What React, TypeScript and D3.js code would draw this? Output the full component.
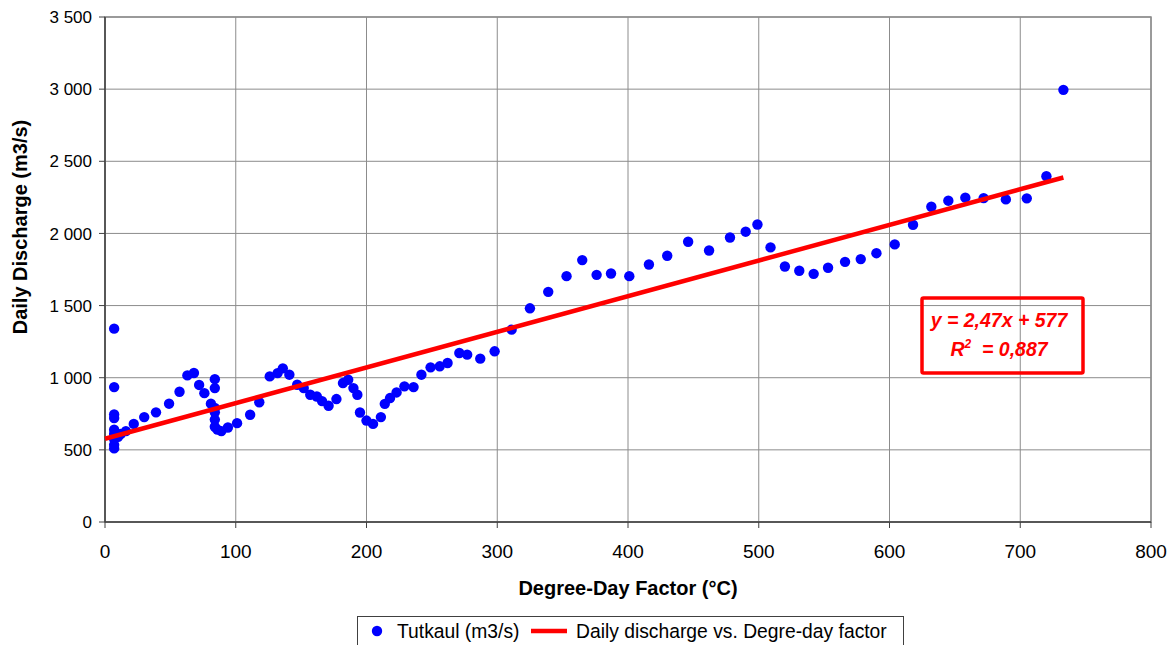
import React from 'react';
import * as d3 from 'd3';

// Tutkaul daily discharge vs degree-day factor
const degreeDays = [
  7, 7, 7, 7, 7, 7, 7, 7, 7, 10, 12,
  16, 22, 30, 39, 49, 57, 63, 68, 72, 76, 81, 84, 84, 84, 84, 84, 84, 86, 89, 94, 101,
  111, 118, 126, 132, 136, 141, 147, 152, 157, 162, 166, 171, 177, 182, 186, 190, 193,
  195, 200, 205, 211, 214, 218, 223, 229, 236, 242, 249, 256, 262, 271, 277, 287, 298,
  311, 325, 339, 353, 365, 376, 387, 401, 416, 430, 446, 462, 478, 490, 499, 509, 520,
  531, 542, 553, 566, 578, 590, 604, 618, 632, 645, 658, 672, 689, 705, 720, 733,
];
const discharge = [
  1340, 935, 745, 720, 640, 610, 575, 535, 510, 590, 610,
  630, 680, 727, 760, 820, 903, 1016, 1033, 950, 893, 820, 990, 928, 790, 760, 710, 660, 640, 630, 655, 685,
  743, 830, 1009, 1032, 1065, 1021, 951, 928, 882, 870, 838, 806, 852, 963, 986, 928, 882,
  759, 703, 680, 727, 819, 859, 898, 940, 935, 1021, 1072, 1079, 1102, 1171, 1160, 1132, 1183,
  1333, 1481, 1595, 1704, 1815, 1713, 1722, 1704, 1785, 1845, 1942, 1882, 1972, 2012, 2062, 1903, 1771,
  1741, 1720, 1762, 1803, 1822, 1863, 1924, 2060, 2185, 2227, 2248, 2245, 2236, 2243, 2396, 2995,
];

// Excel linear trendline shown on the chart
const trendSlope = 2.47;
const trendIntercept = 577;
const trendRange = [0, 733];

const xTicks = [0, 100, 200, 300, 400, 500, 600, 700, 800];
const yTicks = [0, 500, 1000, 1500, 2000, 2500, 3000, 3500];

const W = 1175;
const H = 645;
const margin = { top: 17, right: 24, bottom: 123, left: 105 };
const FONT = 'Arial, "Liberation Sans", Helvetica, sans-serif';

const fmt = (v: number) => d3.format(',')(v).replace(/,/g, '\u00a0');

export default function App() {
  const innerW = W - margin.left - margin.right;
  const innerH = H - margin.top - margin.bottom;

  const x = d3.scaleLinear().domain([0, 800]).range([0, innerW]);
  const y = d3.scaleLinear().domain([0, 3500]).range([innerH, 0]);

  const points = degreeDays.map((d, i) => ({ x: d, y: discharge[i] }));
  const trend = trendRange.map(v => ({ x: v, y: trendSlope * v + trendIntercept }));
  const line = d3.line<{ x: number; y: number }>().x(d => x(d.x)).y(d => y(d.y));

  return (
    <div style={{ position: 'fixed', left: 0, top: 0 }}>
      <svg width={W} height={H} style={{ display: 'block', background: '#fff' }} fontFamily={FONT}>
        <g transform={`translate(${margin.left},${margin.top})`}>
          {/* grid */}
          {yTicks.map(t => (
            <line key={'gy' + t} x1={0} x2={innerW} y1={y(t)} y2={y(t)} stroke="#8c8c8c" strokeWidth={1} />
          ))}
          {xTicks.map(t => (
            <line key={'gx' + t} x1={x(t)} x2={x(t)} y1={0} y2={innerH} stroke="#8c8c8c" strokeWidth={1} />
          ))}
          <rect x={0} y={0} width={innerW} height={innerH} fill="none" stroke="#8c8c8c" strokeWidth={1.5} />

          {/* axes */}
          <line x1={0} x2={0} y1={0} y2={innerH} stroke="#404040" strokeWidth={1.5} />
          <line x1={0} x2={innerW} y1={innerH} y2={innerH} stroke="#404040" strokeWidth={1.5} />
          {yTicks.map(t => (
            <g key={'ty' + t}>
              <line x1={-6} x2={0} y1={y(t)} y2={y(t)} stroke="#404040" strokeWidth={1} />
              <text x={-13} y={y(t)} dy="0.36em" textAnchor="end" fontSize={17} fill="#000">
                {fmt(t)}
              </text>
            </g>
          ))}
          {xTicks.map(t => (
            <g key={'tx' + t}>
              <line x1={x(t)} x2={x(t)} y1={innerH} y2={innerH + 6} stroke="#404040" strokeWidth={1} />
              <text x={x(t)} y={innerH + 36} textAnchor="middle" fontSize={19} fill="#000">
                {t}
              </text>
            </g>
          ))}

          {/* data */}
          {points.map((p, i) => (
            <circle key={i} cx={x(p.x)} cy={y(p.y)} r={5.2} fill="#0000ff" />
          ))}
          <path d={line(trend) || ''} fill="none" stroke="#ff0000" strokeWidth={4.5} />

          {/* equation label */}
          <rect x={817} y={281} width={161} height={75} fill="none" stroke="#ff0000" strokeWidth={3.5} rx={1.5} />
          <text x={894} y={310} textAnchor="middle" fontSize={19.5} fontWeight="bold" fontStyle="italic" fill="#ff0000">
            y = 2,47x + 577
          </text>
          <text x={894} y={339} textAnchor="middle" fontSize={19.5} fontWeight="bold" fontStyle="italic" fill="#ff0000">
            R<tspan dy={-8} fontSize={12}>2</tspan><tspan dy={8}>{'\u00a0 = 0,887'}</tspan>
          </text>
        </g>

        {/* axis titles */}
        <text
          transform="translate(27,227) rotate(-90)"
          textAnchor="middle"
          fontSize={20}
          fontWeight="bold"
          fill="#000"
        >
          Daily Discharge (m3/s)
        </text>
        <text x={628} y={595} textAnchor="middle" fontSize={20} fontWeight="bold" fill="#000">
          Degree-Day Factor (°C)
        </text>

        {/* legend */}
        <g>
          <rect x={357.5} y={616.5} width={546} height={40} fill="#fff" stroke="#404040" strokeWidth={1} />
          <circle cx={377} cy={631} r={5.2} fill="#0000ff" />
          <text x={397} y={638} fontSize={19.3} fill="#000">Tutkaul (m3/s)</text>
          <line x1={531} x2={567} y1={631} y2={631} stroke="#ff0000" strokeWidth={4.5} />
          <text x={576} y={638} fontSize={19.3} fill="#000">Daily discharge vs. Degre-day factor</text>
        </g>
      </svg>
    </div>
  );
}
